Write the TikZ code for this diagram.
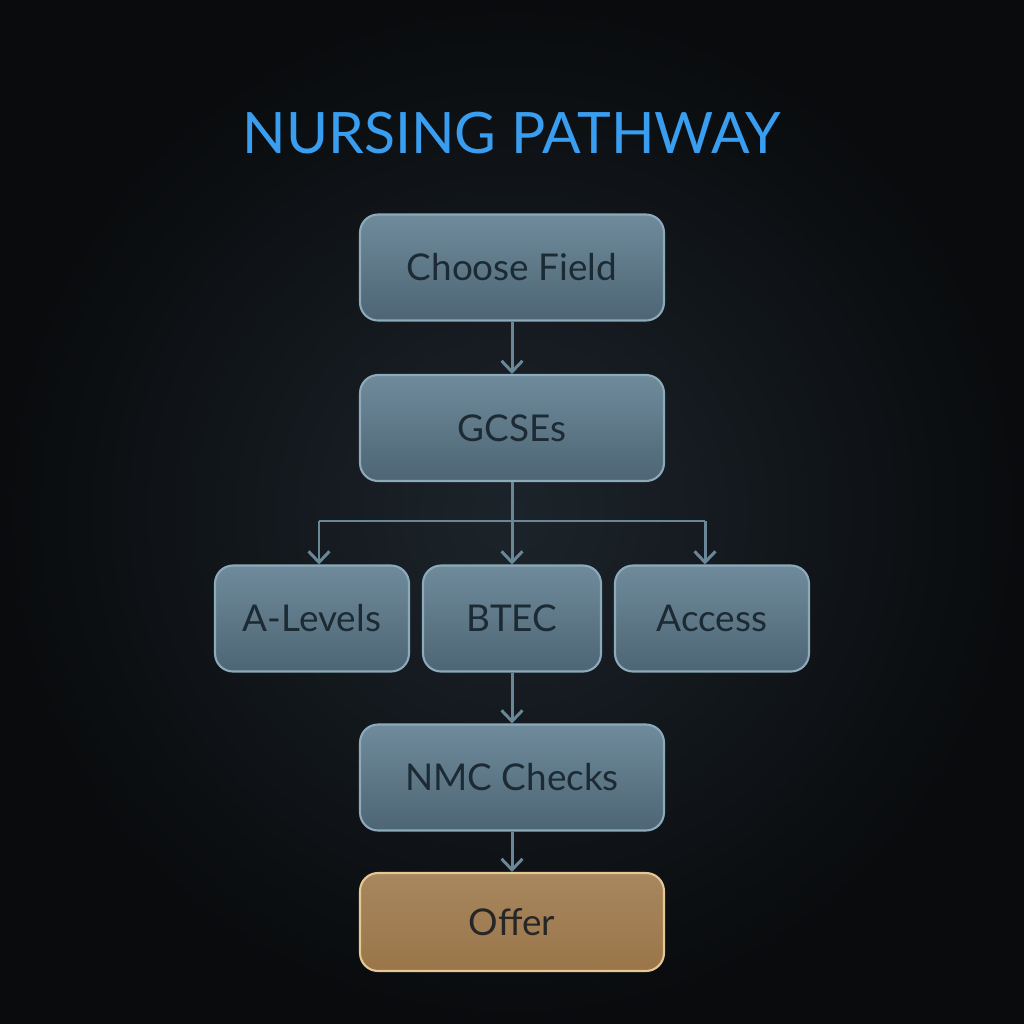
\documentclass[tikz,border=0pt]{standalone}
\usepackage{fontspec}
\setmainfont{Lato}
\usetikzlibrary{arrows.meta}

\definecolor{bgmid}{HTML}{1C242B}
\definecolor{bgedge}{HTML}{090B0D}
\definecolor{titleblue}{HTML}{3A9EF0}
\definecolor{boxtop}{HTML}{6F8B9B}
\definecolor{boxbot}{HTML}{4D6575}
\definecolor{boxline}{HTML}{8CAABA}
\definecolor{boxtext}{HTML}{1C2A34}
\definecolor{linkcol}{HTML}{6A8798}
\definecolor{offertop}{HTML}{A8875F}
\definecolor{offerbot}{HTML}{9A7549}
\definecolor{offerline}{HTML}{E6C894}

\tikzset{
	stage/.style={rounded corners=0.36cm, top color=boxtop, bottom color=boxbot,
		draw=boxline, line width=1.2pt, text=boxtext, font=\fontsize{21}{24}\selectfont,
		minimum height=2.12cm, inner sep=0pt},
	wide/.style={minimum width=6.08cm},
	offerbox/.style={stage, top color=offertop, bottom color=offerbot, draw=offerline,
		minimum height=1.96cm, text=black!85},
	link/.style={draw=linkcol, line width=1.7pt, -{Straight Barb[length=2.2mm,width=4.2mm,line width=1.7pt]}},
	trunk/.style={draw=linkcol, line width=1.7pt},
	titletext/.style={font=\fontsize{32.5}{38}\selectfont, text=titleblue}
}

\begin{document}
	\begin{tikzpicture}[x=0.02cm, y=-0.02cm]
		%%%%% START %%%%%
		
		\useasboundingbox (0, 0) rectangle (1024, 1024);
		\shade[inner color=bgmid, outer color=bgedge] (0, 0) rectangle (1024, 1024);
		
		\node[titletext] (title) at (512, 133) {NURSING PATHWAY};
		
		% stages
		\node[stage, wide] (field) at (512, 267.5) {Choose Field};
		\node[stage, wide] (gcse) at (512, 428) {GCSEs};
		\node[stage, minimum width=3.88cm] (alevels) at (312, 618.5) {A-Levels};
		\node[stage, minimum width=3.56cm] (btec) at (512, 618.5) {BTEC};
		\node[stage, minimum width=3.88cm] (access) at (712, 618.5) {Access};
		\node[stage, wide] (nmc) at (512, 777.5) {NMC Checks};
		\node[offerbox, wide] (offer) at (512, 922) {Offer};
		
		% split under GCSEs
		\coordinate (split) at (512, 521);
		\coordinate (splitL) at (319, 521);
		\coordinate (splitR) at (705, 521);
		
		\draw[link] (field) -- (gcse);
		\draw[trunk] (gcse.south) -- (split);
		\draw[trunk] (splitL) -- (splitR);
		\draw[link] (splitL) -- (splitL |- alevels.north);
		\draw[link] (split) -- (btec);
		\draw[link] (splitR) -- (splitR |- access.north);
		\draw[link] (btec) -- (nmc);
		\draw[link] (nmc) -- (offer);
		
		%%%%% END %%%%%
	\end{tikzpicture}
\end{document}
